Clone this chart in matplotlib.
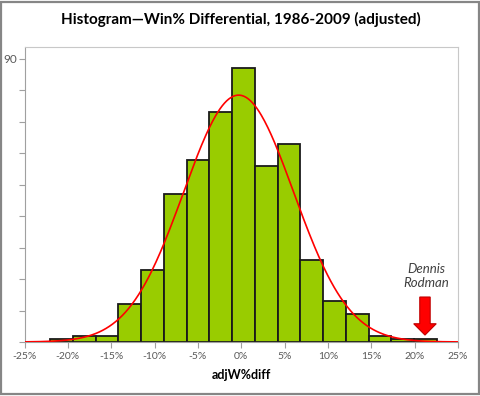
import numpy as np
import matplotlib.pyplot as plt
from matplotlib.patches import Rectangle, FancyArrow

# data
bin_edges = [-22.04, -19.42, -16.79, -14.17, -11.54, -8.92, -6.29, -3.67, -1.04,
             1.58, 4.21, 6.83, 9.46, 12.08, 14.71, 17.33, 19.96, 22.58]
counts = [1, 2, 2, 12, 23, 47, 58, 73, 87, 56, 63, 26, 13, 9, 2, 1, 1]
fit_mean = -0.3
fit_sd = 6.35
rodman_x = 21.2
x_ticks = [-25, -20, -15, -10, -5, 0, 5, 10, 15, 20, 25]

plt.rcParams['font.family'] = ['Lato', 'DejaVu Sans']

fig = plt.figure(figsize=(4.81, 3.96), dpi=100)
ax = fig.add_axes([0.051, 0.1364, 0.901, 0.745])

lefts = bin_edges[:-1]
widths = np.diff(bin_edges)
ax.bar(lefts, counts, width=widths, align='edge', color='#99cc00',
       edgecolor='#1a1a1a', linewidth=1.3, zorder=2)

# fitted normal curve
xs = np.linspace(-25, 25, 400)
n = sum(counts)
w = widths.mean()
ys = n * w / (fit_sd * np.sqrt(2 * np.pi)) * np.exp(-(xs - fit_mean) ** 2 / (2 * fit_sd ** 2))
ax.plot(xs, ys, color='#ff0000', linewidth=1.2, zorder=3)

# Rodman arrow
ax.add_patch(FancyArrow(rodman_x, 14.3, 0, -12.1, width=1.2, head_width=2.6,
                        head_length=3.6, length_includes_head=True,
                        facecolor='#ff0000', edgecolor='#c00000', linewidth=0.8, zorder=4))
ax.text(rodman_x + 0.2, 16.8, 'Dennis\nRodman', ha='center', va='bottom',
        fontsize=9.5, style='italic', color='#404040', linespacing=1.2)

ax.set_xlim(-25, 25)
ax.set_ylim(0, 93.8)
ax.set_xticks(x_ticks)
ax.set_xticklabels([f'{t}%' for t in x_ticks])
ax.set_yticks(range(0, 91, 10))
ax.set_yticklabels(['' if v != 90 else '90' for v in range(0, 91, 10)])
ax.tick_params(axis='both', direction='out', length=4, width=0.8,
               color='#a0a0a0', labelcolor='#595959', labelsize=7.5)
ax.tick_params(axis='y', labelsize=8.5, pad=1)
ax.tick_params(axis='x', pad=3)

for side in ['left', 'bottom']:
    ax.spines[side].set_color('#a0a0a0')
for side in ['top', 'right']:
    ax.spines[side].set_color('#c8c8c8')

ax.set_xlabel('adjW%diff', fontsize=9, fontweight='bold', labelpad=6)
fig.text(0.5, 0.95, 'Histogram\u2014Win% Differential, 1986-2009 (adjusted)',
         ha='center', va='center', fontsize=11, fontweight='bold')

# chart area border
fig.patches.append(Rectangle((0.003, 0.004), 0.993, 0.992, transform=fig.transFigure,
                             fill=False, edgecolor='#868686', linewidth=1.6))

fig.savefig('out.png', dpi=100)
